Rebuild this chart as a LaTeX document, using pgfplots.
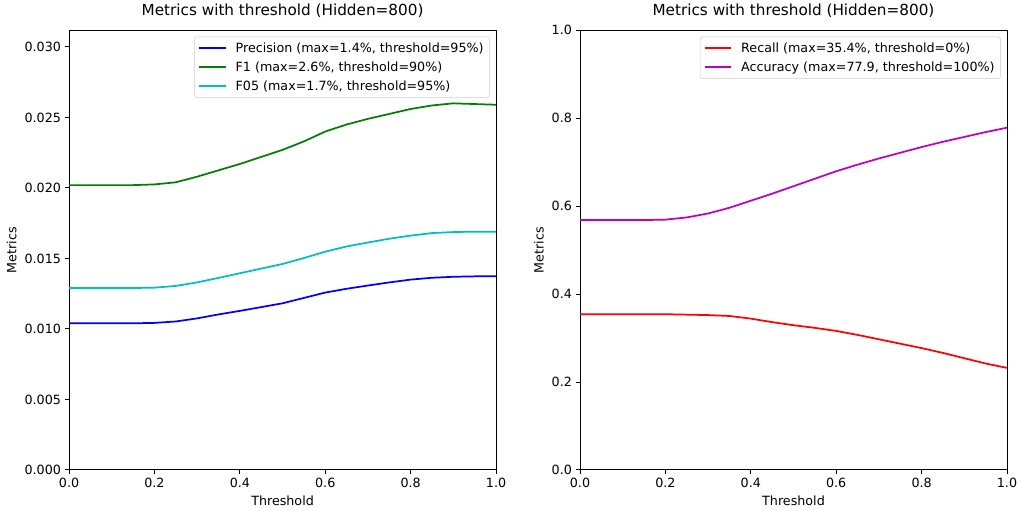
\documentclass[border=0pt]{standalone}
\usepackage{fontspec}
\setmainfont{DejaVu Sans}
\usepackage{pgfplots}
\pgfplotsset{compat=1.18}

\definecolor{mplgreen}{rgb}{0,0.5,0}
\definecolor{mplcyan}{rgb}{0,0.75,0.75}
\definecolor{mplmag}{rgb}{0.75,0,0.75}

\pgfplotsset{
  mplpanel/.style={
    scale only axis, width=369.8pt, height=381pt,
    xmin=0, xmax=1, xtick={0,0.2,0.4,0.6,0.8,1.0},
    tick align=outside, tick pos=left,
    major tick length=3.5pt,
    every tick/.style={black, line width=0.8pt},
    axis line style={line width=0.8pt},
    /pgf/number format/assume math mode=true,
    xticklabel style={/pgf/number format/.cd, fixed, fixed zerofill, precision=1},
    tick label style={font=\fontsize{11}{13}\selectfont},
    label style={font=\fontsize{11}{13}\selectfont},
    title style={font=\fontsize{13.2}{15}\selectfont, yshift=1pt},
    xlabel={Threshold}, ylabel={Metrics},
    title={Metrics with threshold (Hidden=800)},
    legend cell align=left,
    legend style={at={(0.985,0.985)}, anchor=north east, draw=black!20,
      rounded corners=2pt, font=\fontsize{11}{13}\selectfont,
      inner xsep=3pt, inner ysep=3pt, row sep=2.5pt},
    legend image code/.code={\draw[##1, line width=1.5pt] (0pt,0pt) -- (23pt,0pt);
      \path (29pt,0pt);},
    every axis plot/.append style={line width=1.5pt},
  }
}

\begin{document}
\begin{tikzpicture}
\useasboundingbox (-59.8pt,-35.5pt) rectangle (825.3pt,407pt);
\begin{axis}[mplpanel, ymin=0, ymax=0.0312,
  ytick={0,0.005,0.010,0.015,0.020,0.025,0.030},
  yticklabel style={/pgf/number format/.cd, fixed, fixed zerofill, precision=3},
  scaled y ticks=false]
\addplot[blue] coordinates {
(0,0.0104) (0.05,0.0104) (0.1,0.0104) (0.15,0.0104) (0.2,0.01043) (0.25,0.01053)
(0.3,0.01075) (0.35,0.01103) (0.4,0.01128) (0.45,0.01155) (0.5,0.01182) (0.55,0.0122)
(0.6,0.01258) (0.65,0.01285) (0.7,0.01308) (0.75,0.0133) (0.8,0.0135) (0.85,0.01363)
(0.9,0.0137) (0.95,0.01373) (1.0,0.01374)};
\addlegendentry{Precision (max=1.4\%, threshold=95\%)}
\addplot[mplgreen] coordinates {
(0,0.0202) (0.05,0.0202) (0.1,0.0202) (0.15,0.0202) (0.2,0.02025) (0.25,0.0204)
(0.3,0.0208) (0.35,0.02125) (0.4,0.0217) (0.45,0.0222) (0.5,0.0227) (0.55,0.0233)
(0.6,0.0240) (0.65,0.0245) (0.7,0.0249) (0.75,0.02525) (0.8,0.0256) (0.85,0.02585)
(0.9,0.0260) (0.95,0.02595) (1.0,0.0259)};
\addlegendentry{F1 (max=2.6\%, threshold=90\%)}
\addplot[mplcyan] coordinates {
(0,0.0129) (0.05,0.0129) (0.1,0.0129) (0.15,0.0129) (0.2,0.01293) (0.25,0.01305)
(0.3,0.0133) (0.35,0.01362) (0.4,0.01395) (0.45,0.01428) (0.5,0.01461) (0.55,0.01503)
(0.6,0.01548) (0.65,0.01585) (0.7,0.01613) (0.75,0.0164) (0.8,0.01662) (0.85,0.0168)
(0.9,0.01687) (0.95,0.0169) (1.0,0.0169)};
\addlegendentry{F05 (max=1.7\%, threshold=95\%)}
\end{axis}
\begin{axis}[mplpanel, xshift=442.5pt, ymin=0, ymax=1,
  ytick={0,0.2,0.4,0.6,0.8,1.0},
  yticklabel style={/pgf/number format/.cd, fixed, fixed zerofill, precision=1}]
\addplot[red] coordinates {
(0,0.354) (0.05,0.354) (0.1,0.354) (0.15,0.354) (0.2,0.354) (0.25,0.353)
(0.3,0.352) (0.35,0.350) (0.4,0.344) (0.45,0.336) (0.5,0.329) (0.55,0.323)
(0.6,0.316) (0.65,0.307) (0.7,0.297) (0.75,0.287) (0.8,0.277) (0.85,0.266)
(0.9,0.254) (0.95,0.242) (1.0,0.232)};
\addlegendentry{Recall (max=35.4\%, threshold=0\%)}
\addplot[mplmag] coordinates {
(0,0.568) (0.05,0.568) (0.1,0.568) (0.15,0.568) (0.2,0.569) (0.25,0.574)
(0.3,0.583) (0.35,0.596) (0.4,0.612) (0.45,0.628) (0.5,0.645) (0.55,0.662)
(0.6,0.679) (0.65,0.694) (0.7,0.708) (0.75,0.721) (0.8,0.734) (0.85,0.746)
(0.9,0.757) (0.95,0.768) (1.0,0.778)};
\addlegendentry{Accuracy (max=77.9, threshold=100\%)}
\end{axis}
\end{tikzpicture}
\end{document}
